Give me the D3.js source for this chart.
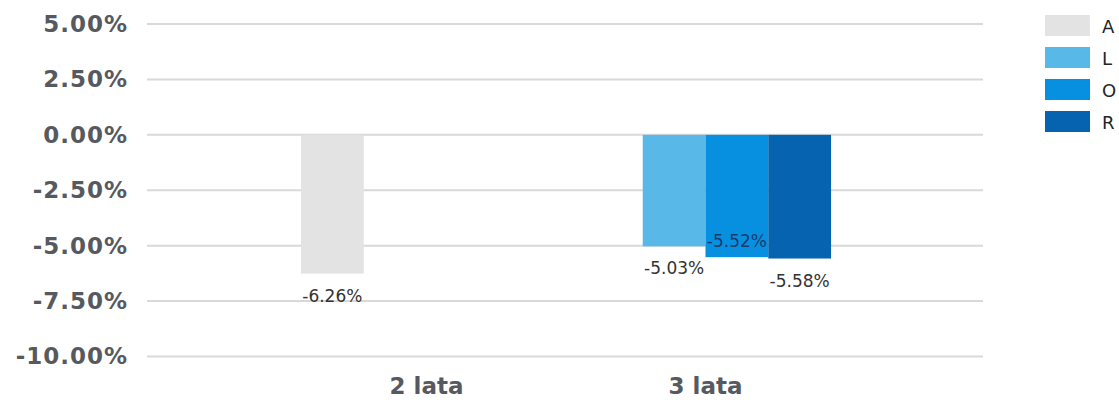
<!DOCTYPE html>
<html>
<head>
<meta charset="utf-8">
<script src="https://cdn.jsdelivr.net/npm/d3@7"></script>
<style>
  body { margin: 0; background: #fff; }
  svg { display: block; }
</style>
</head>
<body>
<script>
var width = 1119,
    height = 400;

var categories = ["2 lata", "3 lata"];
var series = ["A", "L", "O", "R"];
var colors = ["#e3e3e3", "#58b9e8", "#0790e0", "#0563b0"];
// one value per category, null = no bar
var valuesA = [-0.0626, null];
var valuesL = [null, -0.0503];
var valuesO = [null, -0.0552];
var valuesR = [null, -0.0558];
var tickValues = [0.05, 0.025, 0, -0.025, -0.05, -0.075, -0.10];

var seriesValues = [valuesA, valuesL, valuesO, valuesR];

var bars = [];
series.forEach(function(s, i) {
  seriesValues[i].forEach(function(v, j) {
    if (v !== null) bars.push({ series: s, category: categories[j], value: v, color: colors[i] });
  });
});

var svg = d3.select("body").append("svg")
    .attr("width", width)
    .attr("height", height);

var y = d3.scaleLinear()
    .domain([-0.10, 0.05])
    .range([356.5, 24]);

var x0 = d3.scaleBand()
    .domain(categories)
    .range([287, 845])
    .paddingInner(0.1)
    .paddingOuter(0.05);

var x1 = d3.scaleBand()
    .domain(series)
    .range([0, x0.bandwidth()]);

// plain hyphen for negatives, like the original
var pct = d3.formatLocale({
  decimal: ".", thousands: ",", grouping: [3], currency: ["", ""], minus: "-"
}).format(".2%");

// gridlines
svg.append("g")
    .attr("class", "grid")
  .selectAll("line")
    .data(tickValues)
  .enter().append("line")
    .attr("x1", 147)
    .attr("x2", 983)
    .attr("y1", function(d) { return y(d); })
    .attr("y2", function(d) { return y(d); })
    .style("stroke", "#d9d9d9")
    .style("stroke-width", 2);

// y axis labels
var yAxis = d3.axisLeft(y)
    .tickValues(tickValues)
    .tickFormat(pct)
    .tickSize(0)
    .tickPadding(0);

svg.append("g")
    .attr("transform", "translate(128,0)")
    .call(yAxis)
    .call(function(g) { g.select(".domain").remove(); })
    .selectAll("text")
    .style("font-family", "'DejaVu Sans', Verdana, sans-serif")
    .style("font-weight", "bold")
    .style("font-size", "23px")
    .style("letter-spacing", "1px")
    .style("fill", "#565a60");

// x axis labels
var xAxis = d3.axisBottom(x0)
    .tickSize(0)
    .tickPadding(0);

svg.append("g")
    .attr("transform", "translate(0,378)")
    .call(xAxis)
    .call(function(g) { g.select(".domain").remove(); })
    .selectAll("text")
    .style("font-family", "'DejaVu Sans', Verdana, sans-serif")
    .style("font-weight", "bold")
    .style("font-size", "23px")
    .style("fill", "#565a60");

// bars
svg.append("g")
    .attr("class", "bars")
  .selectAll("rect")
    .data(bars)
  .enter().append("rect")
    .attr("x", function(d) { return x0(d.category) + x1(d.series); })
    .attr("y", function(d) { return y(Math.max(0, d.value)); })
    .attr("width", x1.bandwidth())
    .attr("height", function(d) { return Math.abs(y(d.value) - y(0)); })
    .style("fill", function(d) { return d.color; });

// data labels (O label sits inside the bar end)
svg.append("g")
    .attr("class", "labels")
  .selectAll("text")
    .data(bars)
  .enter().append("text")
    .attr("x", function(d) { return x0(d.category) + x1(d.series) + x1.bandwidth() / 2; })
    .attr("y", function(d) { return d.series === "O" ? y(d.value) - 10 : y(d.value) + 28; })
    .attr("text-anchor", "middle")
    .style("font-family", "'DejaVu Sans', sans-serif")
    .style("font-size", "17px")
    .style("fill", function(d) { return d.series === "O" ? "#1a3c6c" : "#333333"; })
    .text(function(d) { return pct(d.value); });

// legend
var legend = svg.selectAll(".legend")
    .data(series)
  .enter().append("g")
    .attr("class", "legend")
    .attr("transform", function(d, i) { return "translate(1045," + (15 + 32 * i) + ")"; });

legend.append("rect")
    .attr("width", 45)
    .attr("height", 21)
    .style("fill", function(d, i) { return colors[i]; });

legend.append("text")
    .attr("x", 57)
    .attr("y", 18)
    .style("font-family", "'DejaVu Sans', sans-serif")
    .style("font-size", "18px")
    .style("fill", "#262626")
    .text(function(d) { return d; });
</script>
</body>
</html>
